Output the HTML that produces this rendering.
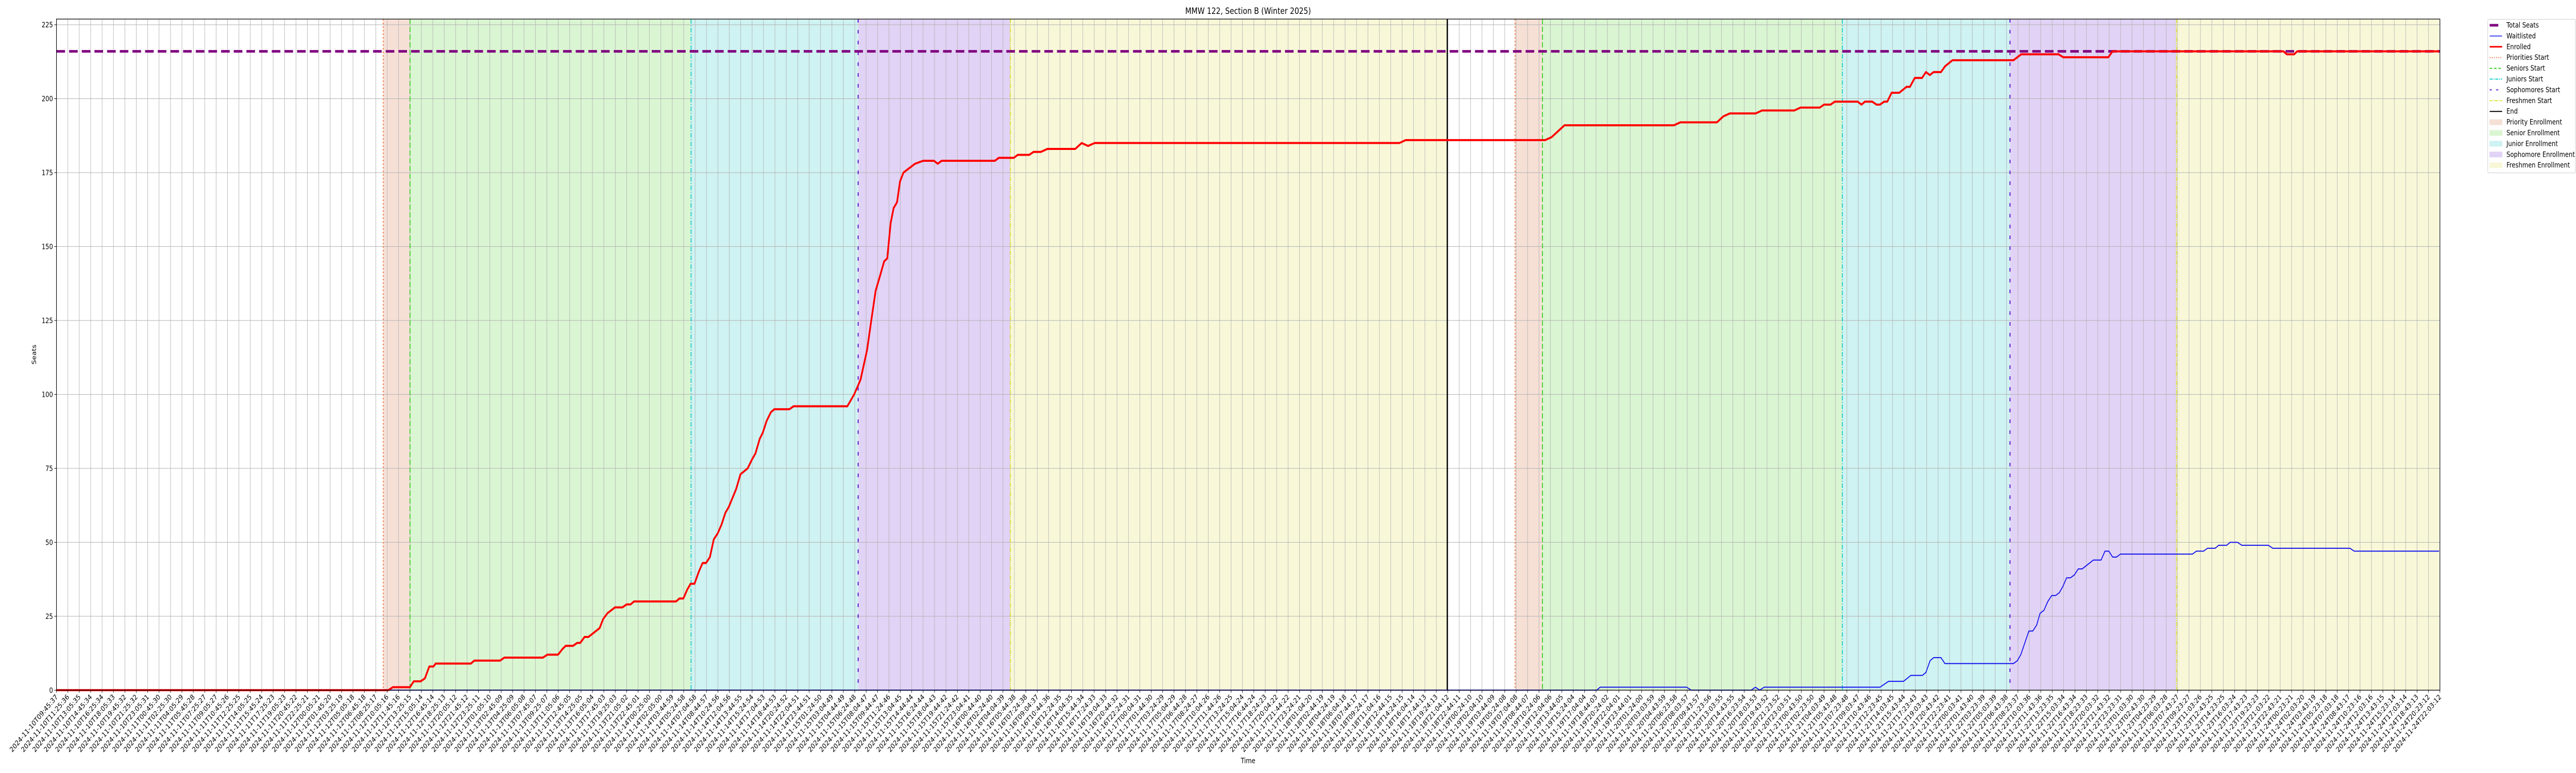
<!DOCTYPE html>
<html><head><meta charset="utf-8"><style>
html,body{margin:0;padding:0;background:#fff;width:100%;height:100%;overflow:hidden;}
svg{display:block;position:absolute;left:0;top:0;width:100vw;height:100vh;overflow:hidden;font-family:"DejaVu Sans","Liberation Sans",sans-serif;}
</style></head><body>
<svg id="chart" viewBox="0 0 6000 1500" preserveAspectRatio="none">
<g id="shading"></g>
<g id="grid"></g>
<g id="markers"></g>
<g id="series"></g>
<g id="axes"></g>
<text x="2907" y="27" font-size="16.7" text-anchor="middle">MMW 122, Section B (Winter 2025)</text>
<text x="2907" y="1481" font-size="13.9" text-anchor="middle">Time</text>
<text x="0" y="0" font-size="13.9" text-anchor="middle" transform="translate(84,688) rotate(-90)">Seats</text>
<g id="legend"></g>
</svg>
<script>
// ---- data ----
const totalSeats = 216;
const yTicks = [0,25,50,75,100,125,150,175,200,225];
const tickCount = 210;
const tickStart = "2024-11-10T09:45:37";
const tickEnd = "2024-11-24T22:03:12";
// time expressed in tick-index units
const enrolledT = [0,29.11,29.49,31.0,31.33,31.93,32.31,32.69,33.06,33.25,36.34,36.64,38.90,39.27,42.66,43.04,43.98,44.39,44.66,45.29,45.67,45.93,46.31,46.65,47.63,47.93,48.31,48.98,49.62,50.00,50.34,50.64,54.33,54.63,54.97,55.31,55.61,55.95,56.32,56.66,56.96,57.30,57.64,57.98,58.32,58.66,58.96,59.60,59.98,60.61,60.99,61.29,61.67,61.93,62.27,62.65,62.95,64.27,64.64,69.35,69.95,70.51,71.08,71.45,71.83,72.21,72.58,72.85,73.15,73.41,73.71,73.97,74.27,75.29,76.00,76.95,77.28,77.62,82.29,82.63,83.95,84.29,85.30,85.68,86.32,86.89,89.33,89.90,90.46,91.03,117.75,118.31,130.54,131.11,131.67,132.24,141.83,142.40,145.60,146.16,146.73,149.0,149.55,152.38,152.94,154.63,155.0,155.57,155.94,157.94,158.28,158.58,159.22,159.60,159.90,160.27,160.54,160.92,161.59,162.23,162.53,162.95,163.59,163.93,164.27,164.61,165.25,165.62,166.26,171.61,172.28,175.56,175.97,179.92,180.30,195.28,195.58,196.22,196.48,208.93];
const enrolledV = [0,0,1,1,3,3,4,8,8,9,9,10,10,11,11,12,12,14,15,15,16,16,18,18,21,24,26,28,28,29,29,30,30,31,31,34,36,36,40,43,43,45,51,53,56,60,62,68,73,75,78,80,85,87,91,94,95,95,96,96,100,105,115,125,135,140,145,146,158,163,165,172,175,178,179,179,178,179,179,180,180,181,181,182,182,183,183,185,184,185,185,186,186,187,189,191,191,192,192,194,195,195,196,196,197,197,198,198,199,199,198,199,199,198,198,199,199,202,202,204,204,207,207,209,208,209,209,211,213,213,215,215,214,214,216,216,215,215,216,216];
const waitT = [0,135.06,135.36,142.96,143.34,148.61,148.98,149.36,149.74,159.90,160.65,161.97,162.61,163.62,163.93,164.30,164.61,165.25,165.59,171.61,171.95,172.25,172.96,173.30,173.64,173.94,174.28,174.62,174.96,175.30,175.63,175.93,176.27,176.61,176.95,177.29,177.63,178.61,179.29,179.63,179.97,180.30,180.64,180.98,187.30,187.64,188.28,188.62,189.30,189.60,190.31,190.61,191.25,191.63,193.96,194.34,201.11,201.49,208.93];
const waitV = [0,0,1,1,0,0,1,0,1,1,3,3,5,5,6,10,11,11,9,9,10,12,20,20,22,26,27,30,32,32,33,35,38,38,39,41,41,44,44,47,47,45,45,46,46,47,47,48,48,49,49,50,50,49,49,48,48,47,47];
const periodNames = ["Priority","Senior","Junior","Sophomore","Freshmen"];
const round1Starts = [28.65,31.0,55.65,70.3,83.65];
const round1End = 121.96;
const round2Starts = [127.9,130.3,156.6,171.3,185.9];
const round2End = 208.93;

// ---- scales ----
const L=131.5, R=5683, T=37, B=1339.3;
const x = i => L + i*(R-L)/(tickCount-1);
const y = v => B - v*(B-48)/225;
const NS="http://www.w3.org/2000/svg";
function mk(tag, attrs, parent){const e=document.createElementNS(NS,tag);for(const k in attrs)e.setAttribute(k,attrs[k]);parent.appendChild(e);return e;}

const fills=["#f6e0d6","#daf5d2","#cff2f2","#e1d3f5","#f8f8d9"];
const mStroke=["#ee7744","#33cc22","#11cccc","#6622cc","#dddd22"];
const mDash=["3,4","10,5","9,3,2,3","7,14","8,2,2,2,2,2"];
const shading=document.getElementById('shading');
[[round1Starts,round1End],[round2Starts,round2End]].forEach((rd,ri)=>{
  rd[0].forEach((s,k)=>{
    const e = k<4 ? rd[0][k+1] : rd[1];
    const r=mk('rect',{x:x(s),y:T,width:x(e)-x(s),height:B-T,fill:fills[k]},shading);
    
    
  });
});

// grid
const grid=document.getElementById('grid');
for(let i=0;i<tickCount;i++){
  const l=mk('line',{x1:x(i),x2:x(i),y1:T,y2:B,stroke:"#b0b0b0","stroke-width":1},grid);
  
  
}
yTicks.forEach(v=>{
  const l=mk('line',{x1:L,x2:R,y1:y(v),y2:y(v),stroke:"#b0b0b0","stroke-width":1},grid);
  
  
});

// markers
const markers=document.getElementById('markers');
[round1Starts,round2Starts].forEach((rs,ri)=>{
  rs.forEach((s,k)=>{
    const l=mk('line',{x1:x(s),x2:x(s),y1:T,y2:B,stroke:mStroke[k],"stroke-width":k==3?2.5:2,"stroke-dasharray":mDash[k]},markers);
    
    
  });
});
const endL=mk('line',{x1:x(round1End),x2:x(round1End),y1:T,y2:B,stroke:"#000","stroke-width":3},markers);



// series
const series=document.getElementById('series');
const ts=mk('line',{x1:L,x2:R,y1:y(totalSeats),y2:y(totalSeats),stroke:"#800080","stroke-width":5,"stroke-dasharray":"20,9.5"},series);


function pts(tA,vA){return tA.map((t,i)=>x(t).toFixed(2)+','+y(vA[i]).toFixed(2)).join(' ');}
const wl=mk('polyline',{points:pts(waitT,waitV),fill:"none",stroke:"#1010ee","stroke-width":2,"stroke-linejoin":"round"},series);


const el=mk('polyline',{points:pts(enrolledT,enrolledV),fill:"none",stroke:"#ff0000","stroke-width":4,"stroke-linejoin":"round"},series);



// axes
const axes=document.getElementById('axes');
const frame=mk('rect',{x:L,y:T,width:R-L,height:B-T,fill:"none",stroke:"#000","stroke-width":1.3},axes);


yTicks.forEach(v=>{
  const t=mk('line',{x1:L-5,x2:L,y1:y(v),y2:y(v),stroke:"#000","stroke-width":1},axes);
  
  
  const tx=mk('text',{x:L-8,y:y(v)+5,"font-size":13.9,"text-anchor":"end"},axes);
  tx.textContent=v;
  
  
});
const t0=Date.parse(tickStart+"Z"), t1=Date.parse(tickEnd+"Z");
const step=(t1-t0)/(tickCount-1);
for(let i=0;i<tickCount;i++){
  const t=mk('line',{x1:x(i),x2:x(i),y1:B,y2:B+5,stroke:"#000","stroke-width":1},axes);
  
  
  const lbl=new Date(t0+step*i).toISOString().slice(0,19);
  const tx=mk('text',{x:0,y:0,"font-size":13.9,"text-anchor":"end",transform:`translate(${x(i)+4},${B+14}) rotate(-45)`},axes);
  tx.textContent=lbl;
  
  
}

// legend
const lg=document.getElementById('legend');
const box=mk('rect',{x:5794.5,y:37.5,width:204,height:298,fill:"#fff",stroke:"#ccc","stroke-width":1,rx:2},lg);


const entries=[
 ["Total Seats","line","#800080",5,""],
 ["Waitlisted","line","#1010ee",1.5,""],
 ["Enrolled","line","#ff0000",3,""],
 ["Priorities Start","line",mStroke[0],2,"2,3"],
 ["Seniors Start","line",mStroke[1],2,"6,4"],
 ["Juniors Start","line",mStroke[2],2,"7,2,2,2"],
 ["Sophomores Start","line",mStroke[3],2,"5,10"],
 ["Freshmen Start","line",mStroke[4],2,"5,1.5,1.5,1.5,1.5,1.5"],
 ["End","line","#000",2,""],
 ["Priority Enrollment","rect",fills[0]],
 ["Senior Enrollment","rect",fills[1]],
 ["Junior Enrollment","rect",fills[2]],
 ["Sophomore Enrollment","rect",fills[3]],
 ["Freshmen Enrollment","rect",fills[4]]];
entries.forEach((e,i)=>{
  const cy=49+i*20.9;
  const g=mk('g',{},lg);
  
  
  if(e[1]=="line"){
    const a={x1:5799,x2:5828,y1:cy,y2:cy,stroke:e[2],"stroke-width":e[3]};
    if(i==0){a.x2=5819;}
    if(e[4])a["stroke-dasharray"]=e[4];
    mk('line',a,g);
  } else {
    mk('rect',{x:5799,y:cy-5,width:29,height:10,fill:e[2],stroke:e[2]},g);
  }
  const tx=mk('text',{x:5838,y:cy+4.5,"font-size":13.9},g);
  tx.textContent=e[0];
});
</script>
</body></html>
